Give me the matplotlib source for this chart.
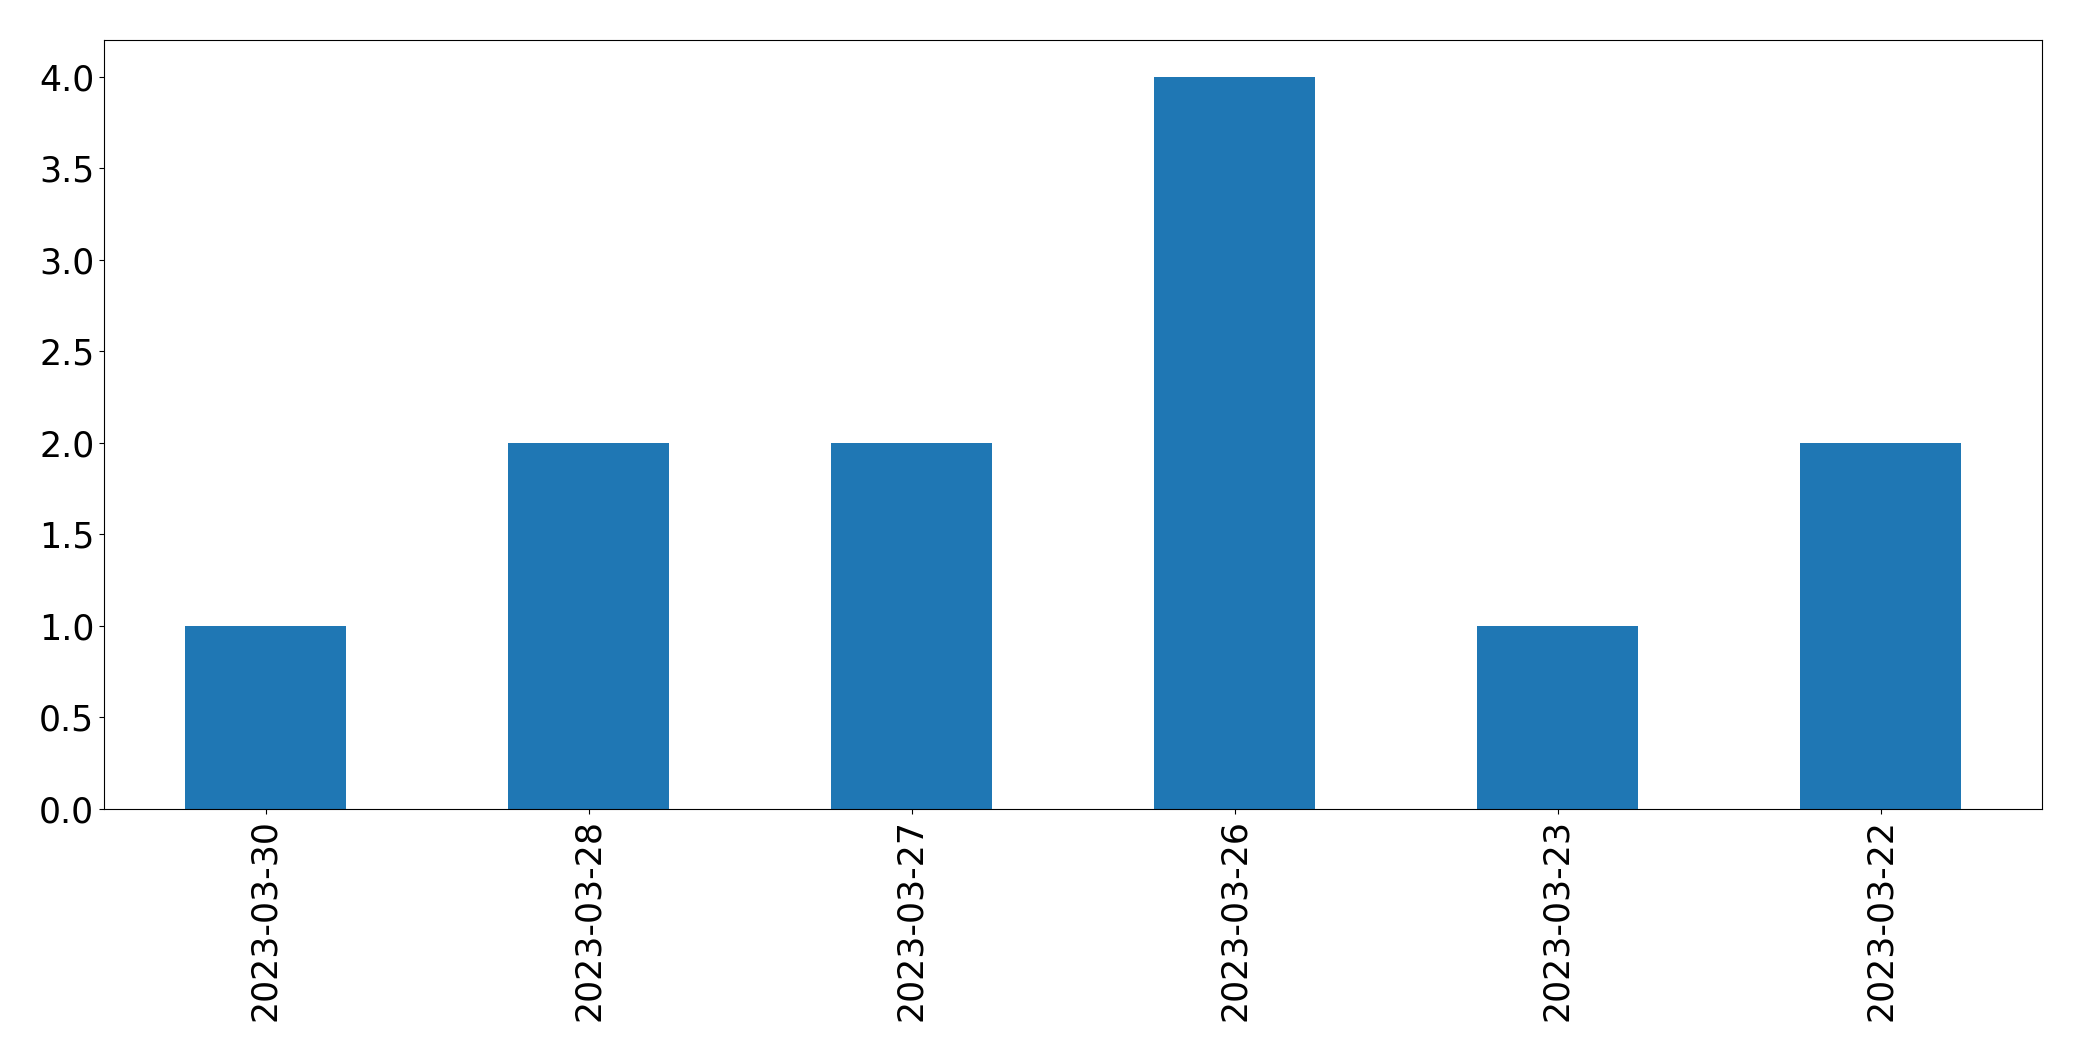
import matplotlib
matplotlib.use("Agg")
import matplotlib.pyplot as plt
import numpy as np

dates = ["2023-03-30", "2023-03-28", "2023-03-27", "2023-03-26", "2023-03-23", "2023-03-22"]
counts = [1, 2, 2, 4, 1, 2]

fig, ax = plt.subplots(figsize=(20.82, 10.61), dpi=100)
fig.subplots_adjust(left=104 / 2082, right=2042 / 2082, top=1 - 40 / 1061, bottom=1 - 809 / 1061)

x = np.arange(len(dates))
ax.bar(x, counts, width=0.5, color="#1f77b4")
ax.set_xlim(-0.5, len(dates) - 0.5)
ax.set_ylim(0, 4.2)
ax.set_xticks(x)
ax.set_xticklabels(dates, rotation=90)
ax.tick_params(labelsize=25)

fig.savefig("out.png", dpi=100)
